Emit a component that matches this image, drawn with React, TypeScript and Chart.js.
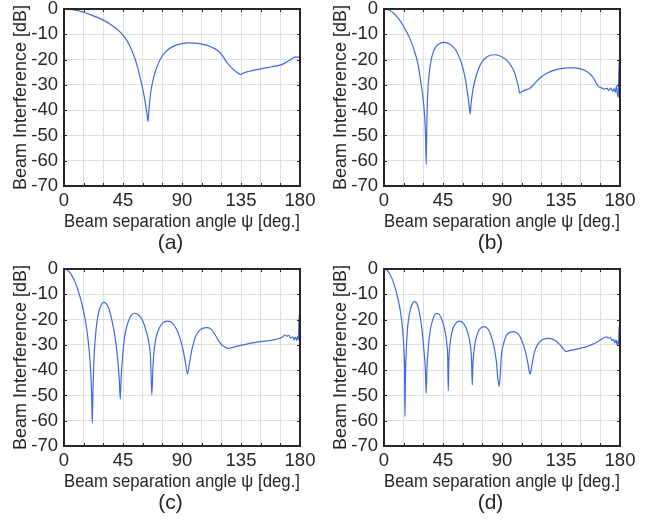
import React, { useEffect, useRef } from 'react';
import { Chart, registerables } from 'chart.js';

Chart.register(...registerables);

// ---------- data ----------
const xTickLabels = [0, 45, 90, 135, 180];
const yTickLabels = [0, -10, -20, -30, -40, -50, -60, -70];
const xTitle = 'Beam separation angle ψ [deg.]';
const yTitle = 'Beam Interference [dB]';
const panelLabels = ['(a)', '(b)', '(c)', '(d)'];

const angA = [0, 5, 10, 15, 20, 25, 30, 35, 40, 45, 48, 51, 54, 56, 58, 60, 62, 63.3, 64, 64.8, 66, 67.5, 69.5, 72, 75, 79, 84, 89, 95, 102, 108, 113, 117, 120, 122, 124, 127, 130, 133, 134.5, 137, 141, 146, 151, 156, 161, 166, 169, 172, 174, 176, 178, 180];
const valA = [0, -0.15, -0.55, -1.3, -2.2, -3.2, -4.4, -5.9, -7.8, -10.3, -12.5, -15.5, -19.5, -22.8, -27, -31.5, -37, -41.5, -44.5, -40, -33.5, -29, -25, -21.5, -18.5, -16.2, -14.6, -13.8, -13.4, -13.6, -14.2, -15.2, -16.3, -17.8, -19.3, -21, -22.8, -24.3, -25.4, -25.9, -25.3, -24.7, -24.1, -23.6, -23.1, -22.6, -22, -21.2, -20.3, -19.6, -19, -19.1, -18.8];

const angB = [0, 3, 6, 9, 12, 15, 18, 21, 24, 26, 28, 29.5, 30.8, 31.7, 32.2, 32.7, 33.5, 34.5, 36, 38, 40, 43, 46, 49, 52, 55, 58, 60.5, 62.5, 64, 65, 65.7, 66.5, 68, 70, 73, 76, 79, 82, 85, 88, 91, 94, 97, 99.5, 101.5, 102.8, 103.3, 105, 108, 111, 113, 116, 120, 125, 130, 135, 140, 145, 150, 154, 157, 160, 162, 164, 166, 168, 170, 171.5, 173, 174.5, 175.5, 176.5, 177.3, 178, 178.7, 179.3, 180];
const valB = [0, -0.3, -1.1, -2.5, -4.4, -7, -9.8, -13.3, -18, -22, -28.5, -34, -41, -50, -61.5, -45, -32, -25.5, -20, -16.5, -14.6, -13.5, -13.2, -13.6, -14.6, -16.5, -19.8, -24, -29, -34.5, -38.5, -41.5, -37, -31.5, -27, -22.5, -20, -18.8, -18.2, -18.1, -18.5, -19.3, -20.5, -22.5, -25, -28.5, -31.5, -33.2, -32.7, -32, -31.4, -30.5, -28.8, -26.8, -25.2, -24.2, -23.6, -23.3, -23.3, -23.7, -24.5, -25.6, -27.5, -29.5, -30.8, -31.2, -31.7, -31.4, -32.2, -31.3, -32.5, -31.5, -33, -30.5, -33.5, -35, -20.5, -26];

const angC = [0, 2, 4, 6, 8, 10, 12, 14, 16, 17.5, 19, 20.3, 21.1, 21.6, 22.1, 22.8, 23.8, 25, 26.5, 28.3, 30.2, 32.2, 34.2, 36, 37.8, 39.5, 41, 42.2, 42.9, 43.6, 44.8, 46.2, 48, 50.5, 53.8, 57, 60, 62.5, 64.5, 66, 67, 67.9, 69, 70.5, 72.5, 75.5, 79, 82.5, 86, 88.5, 90.8, 92.6, 94.2, 95.8, 97.8, 100.5, 104, 107, 109.6, 112.5, 115, 117.5, 120, 122.5, 125.4, 130, 135, 140, 145, 150, 155, 160, 164, 167, 168.5, 170, 171.5, 173, 174.5, 175.5, 176.5, 177.5, 178.3, 178.8, 179.3, 180];
const valC = [0, -0.3, -1.1, -2.6, -4.6, -7.3, -10.6, -14.6, -19.5, -24.5, -31, -40, -50, -61, -48, -36, -28, -21.5, -17, -14.3, -13.2, -13.7, -15.6, -19, -23.5, -29, -36, -44, -51.5, -43, -34, -27, -22.5, -19, -17.5, -18.2, -20.5, -24.2, -28.5, -35, -49.8, -38, -31, -26.5, -23.5, -21.3, -20.6, -21.3, -24, -27.5, -32, -37, -41.5, -37, -31.3, -26.5, -24, -23.3, -23.2, -24, -25.8, -28, -29.8, -30.8, -31.4, -30.8, -30.2, -29.6, -29.1, -28.7, -28.4, -28, -27.5, -26.8, -26.1, -26.6, -26.2, -27.3, -26.8, -28, -27, -28.2, -26.5, -28, -18, -22];

const angD = [0, 2, 4, 6, 8, 10, 11.5, 13, 14.2, 15.2, 15.7, 16, 16.4, 17, 17.8, 18.8, 20.2, 21.8, 23.1, 24.6, 26.2, 27.8, 29.3, 30.6, 31.6, 32.2, 32.8, 33.8, 35.2, 37, 39.8, 42.5, 44.8, 46.6, 47.9, 48.6, 49, 49.5, 50.3, 51.8, 54, 57.6, 61, 63.5, 65.5, 66.8, 67.3, 67.9, 69.2, 71, 73, 75.9, 79, 82, 84.2, 85.8, 86.8, 87.4, 87.8, 88.4, 89.6, 91.5, 94.5, 98.7, 102.5, 105.5, 108, 110, 111.4, 112.8, 115, 118, 121.5, 126.1, 130.5, 134.3, 137, 138.8, 142, 146, 150, 154, 158, 162, 166, 169.8, 171, 172.5, 174, 175, 176, 177, 177.8, 178.5, 178.9, 179.4, 180];
const valD = [0, -0.4, -1.6, -3.7, -6.6, -10.3, -13.8, -18.5, -24, -32, -40, -58.4, -42, -32, -24.5, -19.5, -15.8, -13.6, -12.9, -13.3, -15.5, -19.5, -25.5, -33, -40, -49.2, -39, -31, -24.5, -20.3, -17.5, -18.2, -21, -24.7, -29.5, -35, -48.1, -36, -30, -25, -22, -20.6, -21.8, -24.5, -29, -36, -45.9, -37, -30, -26, -23.8, -22.8, -23.5, -27, -31.5, -37, -43.5, -45, -46.5, -44, -34, -29, -25.5, -24.8, -25.8, -28.8, -33, -38, -41.7, -38, -32.5, -29.3, -27.8, -27.4, -28.3, -30, -31.7, -32.7, -32.2, -31.8, -31.3, -30.8, -30, -29.1, -27.8, -26.8, -27.3, -27, -28.3, -27.8, -29.3, -28, -30, -28.5, -29.8, -22, -25];

const panelAngles = [angA, angB, angC, angD];
const panelValues = [valA, valB, valC, valD];

// ---------- style ----------
const FONT = "'Liberation Sans', Arial, Helvetica, sans-serif";
const TEXT = '#262626';
const LINE = '#4169e1';
const GRID = '#dfdfdf';

const framePlugin = {
  id: 'frame',
  afterDatasetsDraw(chart: any) {
    const { ctx, chartArea, scales } = chart;
    const { left, right, top, bottom } = chartArea;
    const tl = 3;
    ctx.save();
    ctx.strokeStyle = TEXT;
    ctx.lineWidth = 1;
    ctx.beginPath();
    scales.x.ticks.forEach((t: any) => {
      const px = Math.round(scales.x.getPixelForValue(t.value)) + 0.5;
      ctx.moveTo(px, bottom);
      ctx.lineTo(px, bottom - tl);
      ctx.moveTo(px, top);
      ctx.lineTo(px, top + tl);
    });
    scales.y.ticks.forEach((t: any) => {
      const py = Math.round(scales.y.getPixelForValue(t.value)) + 0.5;
      ctx.moveTo(left, py);
      ctx.lineTo(left + tl, py);
      ctx.moveTo(right, py);
      ctx.lineTo(right - tl, py);
    });
    ctx.stroke();
    ctx.lineWidth = 2;
    ctx.strokeRect(left, top, right - left, bottom - top);
    ctx.restore();
  },
  afterDraw(chart: any, _args: any, opts: any) {
    if (!opts || !opts.text) return;
    const { ctx, chartArea } = chart;
    ctx.save();
    ctx.fillStyle = TEXT;
    ctx.font = `21px ${FONT}`;
    ctx.textAlign = 'center';
    ctx.textBaseline = 'middle';
    ctx.fillText(opts.text, (chartArea.left + chartArea.right) / 2 - 11.5, chartArea.bottom + 57);
    ctx.restore();
  },
};

function Panel({ index, left, top, height }: { index: number; left: number; top: number; height: number }) {
  const ref = useRef<HTMLCanvasElement | null>(null);
  useEffect(() => {
    if (!ref.current) return;
    const ang = panelAngles[index];
    const val = panelValues[index];
    const chart = new Chart(ref.current, {
      type: 'line',
      data: {
        datasets: [
          {
            data: ang.map((a, i) => ({ x: a, y: val[i] })),
            borderColor: LINE,
            borderWidth: 1.2,
            pointRadius: 0,
            fill: false,
            cubicInterpolationMode: 'monotone',
          },
        ],
      },
      options: {
        animation: false,
        responsive: false,
        devicePixelRatio: 1,
        layout: { padding: { left: 0, right: 20, top: 9, bottom: height - 233 } },
        plugins: {
          legend: { display: false },
          tooltip: { enabled: false },
          title: { display: false },
          frame: { text: panelLabels[index] },
        } as any,
        scales: {
          x: {
            type: 'linear',
            min: 0,
            max: 180,
            afterFit: (s: any) => {
              s.height = 47;
              s.paddingLeft = 0;
              s.paddingRight = 0;
            },
            ticks: {
              stepSize: 15,
              autoSkip: false,
              maxRotation: 0,
              padding: 4,
              color: TEXT,
              font: { family: FONT, size: 18.5 },
              callback: (v: any) => (xTickLabels.includes(Number(v)) ? String(v) : ''),
            },
            grid: { color: GRID, lineWidth: 1, drawTicks: false },
            border: { display: false },
            title: { display: true, text: xTitle, color: TEXT, font: { family: FONT, size: 19 }, padding: 0 },
          },
          y: {
            type: 'linear',
            min: -70,
            max: 0,
            afterFit: (s: any) => {
              s.width = 64;
              s.paddingTop = 0;
              s.paddingBottom = 0;
            },
            ticks: {
              stepSize: 10,
              autoSkip: false,
              padding: 6,
              color: TEXT,
              font: { family: FONT, size: 18.5 },
              callback: (v: any) => (yTickLabels.includes(Number(v)) ? String(v) : ''),
            },
            grid: { color: GRID, lineWidth: 1, drawTicks: false },
            border: { display: false },
            title: { display: true, text: yTitle, color: TEXT, font: { family: FONT, size: 18 }, padding: { top: 10, bottom: 0 } },
          },
        },
      } as any,
      plugins: [framePlugin],
    });
    return () => chart.destroy();
  }, [index, height]);
  return (
    <canvas
      ref={ref}
      width={320}
      height={height}
      style={{ position: 'absolute', left, top, width: 320, height }}
    />
  );
}

export default function App() {
  return (
    <div style={{ position: 'absolute', left: 0, top: 0, width: 648, height: 521, background: '#ffffff', overflow: 'hidden' }}>
      <Panel index={0} left={0} top={0} height={260} />
      <Panel index={1} left={320} top={0} height={260} />
      <Panel index={2} left={0} top={260} height={261} />
      <Panel index={3} left={320} top={260} height={261} />
    </div>
  );
}
